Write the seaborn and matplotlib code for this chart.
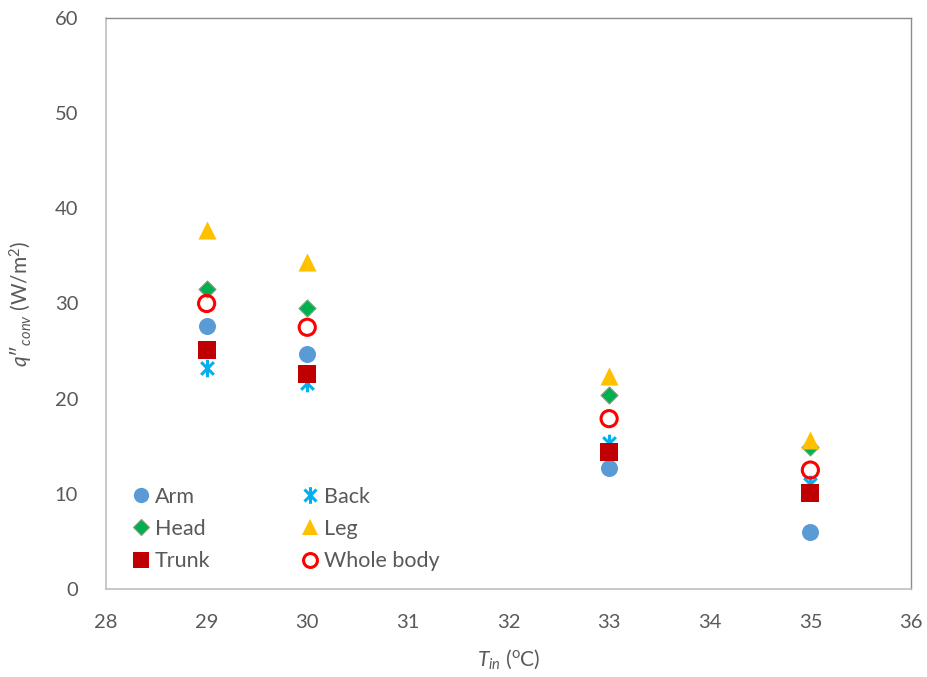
import numpy as np
import pandas as pd
import seaborn as sns
import matplotlib
matplotlib.use("Agg")
import matplotlib.pyplot as plt
from matplotlib.path import Path
from matplotlib.lines import Line2D

# ---- data ----
t_in = [29, 30, 33, 35]
arm = [27.6, 24.7, 12.7, 6.0]
back = [23.2, 21.6, 15.3, 11.0]
head = [31.5, 29.5, 20.4, 14.9]
leg = [37.7, 34.4, 22.4, 15.7]
trunk = [25.1, 22.6, 14.4, 10.1]
whole = [30.0, 27.5, 17.9, 12.5]
series_names = ["Arm", "Head", "Trunk", "Back", "Leg", "Whole body"]
series_vals = [arm, head, trunk, back, leg, whole]
x_ticks = [28, 29, 30, 31, 32, 33, 34, 35, 36]
y_ticks = [0, 10, 20, 30, 40, 50, 60]

sns.set_theme(style="white")
FONT = "Lato"
plt.rcParams["font.family"] = [FONT, "DejaVu Sans"]
plt.rcParams["mathtext.fontset"] = "custom"
plt.rcParams["mathtext.rm"] = FONT
plt.rcParams["mathtext.it"] = FONT + ":italic"
plt.rcParams["mathtext.bf"] = FONT + ":bold"

TXT = "#595959"

fig = plt.figure(figsize=(9.28, 6.77), dpi=100)
ax = fig.add_axes([106 / 928, 1 - 589 / 677, (911 - 106) / 928, (589 - 18) / 677])

asterisk = Path(
    [(0, -1), (0, 1), (-0.72, -0.72), (0.72, 0.72), (-0.72, 0.72), (0.72, -0.72)],
    [Path.MOVETO, Path.LINETO, Path.MOVETO, Path.LINETO, Path.MOVETO, Path.LINETO],
)

styles = {
    "Arm": dict(marker="o", color="#5B9BD5", s=150, edgecolor="#5B9BD5", linewidth=0),
    "Head": dict(marker="D", color="#00B050", s=75, edgecolor="#7F9F7F", linewidth=0.8),
    "Trunk": dict(marker="s", color="#C00000", s=150, edgecolor="#C00000", linewidth=0),
    "Back": dict(marker=asterisk, color="#00B0F0", s=160, edgecolor="#00B0F0", linewidth=2.2),
    "Leg": dict(marker="^", color="#FFC000", s=170, edgecolor="#FFC000", linewidth=0),
    "Whole body": dict(marker="o", color="none", s=135, edgecolor="#FF0000", linewidth=2.2),
}

df = pd.DataFrame({
    "T": np.tile(t_in, len(series_names)),
    "q": np.concatenate(series_vals),
    "Part": np.repeat(series_names, len(t_in)),
})

zorder = {"Back": 3, "Arm": 3, "Trunk": 4, "Whole body": 4, "Head": 4, "Leg": 5}
for name in series_names:
    sub = df[df["Part"] == name]
    st = styles[name]
    sns.scatterplot(data=sub, x="T", y="q", ax=ax, marker=st["marker"], s=st["s"],
                    facecolor=st["color"], edgecolor=st["edgecolor"], linewidth=st["linewidth"],
                    label=name, zorder=zorder[name], legend=False)

ax.set_xlim(28, 36)
ax.set_ylim(0, 60)
ax.set_xticks(x_ticks)
ax.set_yticks(y_ticks)
ax.tick_params(axis="both", direction="inout", length=8, width=1, color="#BFBFBF",
               labelsize=14.5, labelcolor=TXT)
ax.tick_params(axis="x", pad=14)
ax.tick_params(axis="y", pad=16)
for side in ["left", "bottom"]:
    ax.spines[side].set_color("#BFBFBF")
    ax.spines[side].set_linewidth(1.2)
for side in ["top", "right"]:
    ax.spines[side].set_color("#8C8C8C")
    ax.spines[side].set_linewidth(1.0)
    ax.spines[side].set_visible(True)

ax.set_xlabel(r"$T_{in}$ ($^{\rm o}$C)", fontsize=15, color=TXT, labelpad=12)
ax.set_ylabel("$q$\u2033$_{conv}$ (W/m$^{2}$)", fontsize=15, color=TXT, labelpad=14)

handles, labels = [], []
for name in series_names:
    st = styles[name]
    ms = {"Arm": 11, "Head": 8, "Trunk": 11, "Back": 12, "Leg": 12, "Whole body": 10}[name]
    h = Line2D([], [], linestyle="none", marker=st["marker"], markersize=ms,
               markerfacecolor=st["color"], markeredgecolor=st["edgecolor"],
               markeredgewidth=max(st["linewidth"], 0.01))
    handles.append(h)
    labels.append(name)
ax.legend(handles, labels, ncol=2, loc="upper left", bbox_to_anchor=(0.006, 0.213),
          frameon=False, fontsize=15.5, labelcolor=TXT, handletextpad=0.15,
          columnspacing=4.1, labelspacing=0.57, handlelength=1.0)

fig.savefig("out.png", dpi=100)
